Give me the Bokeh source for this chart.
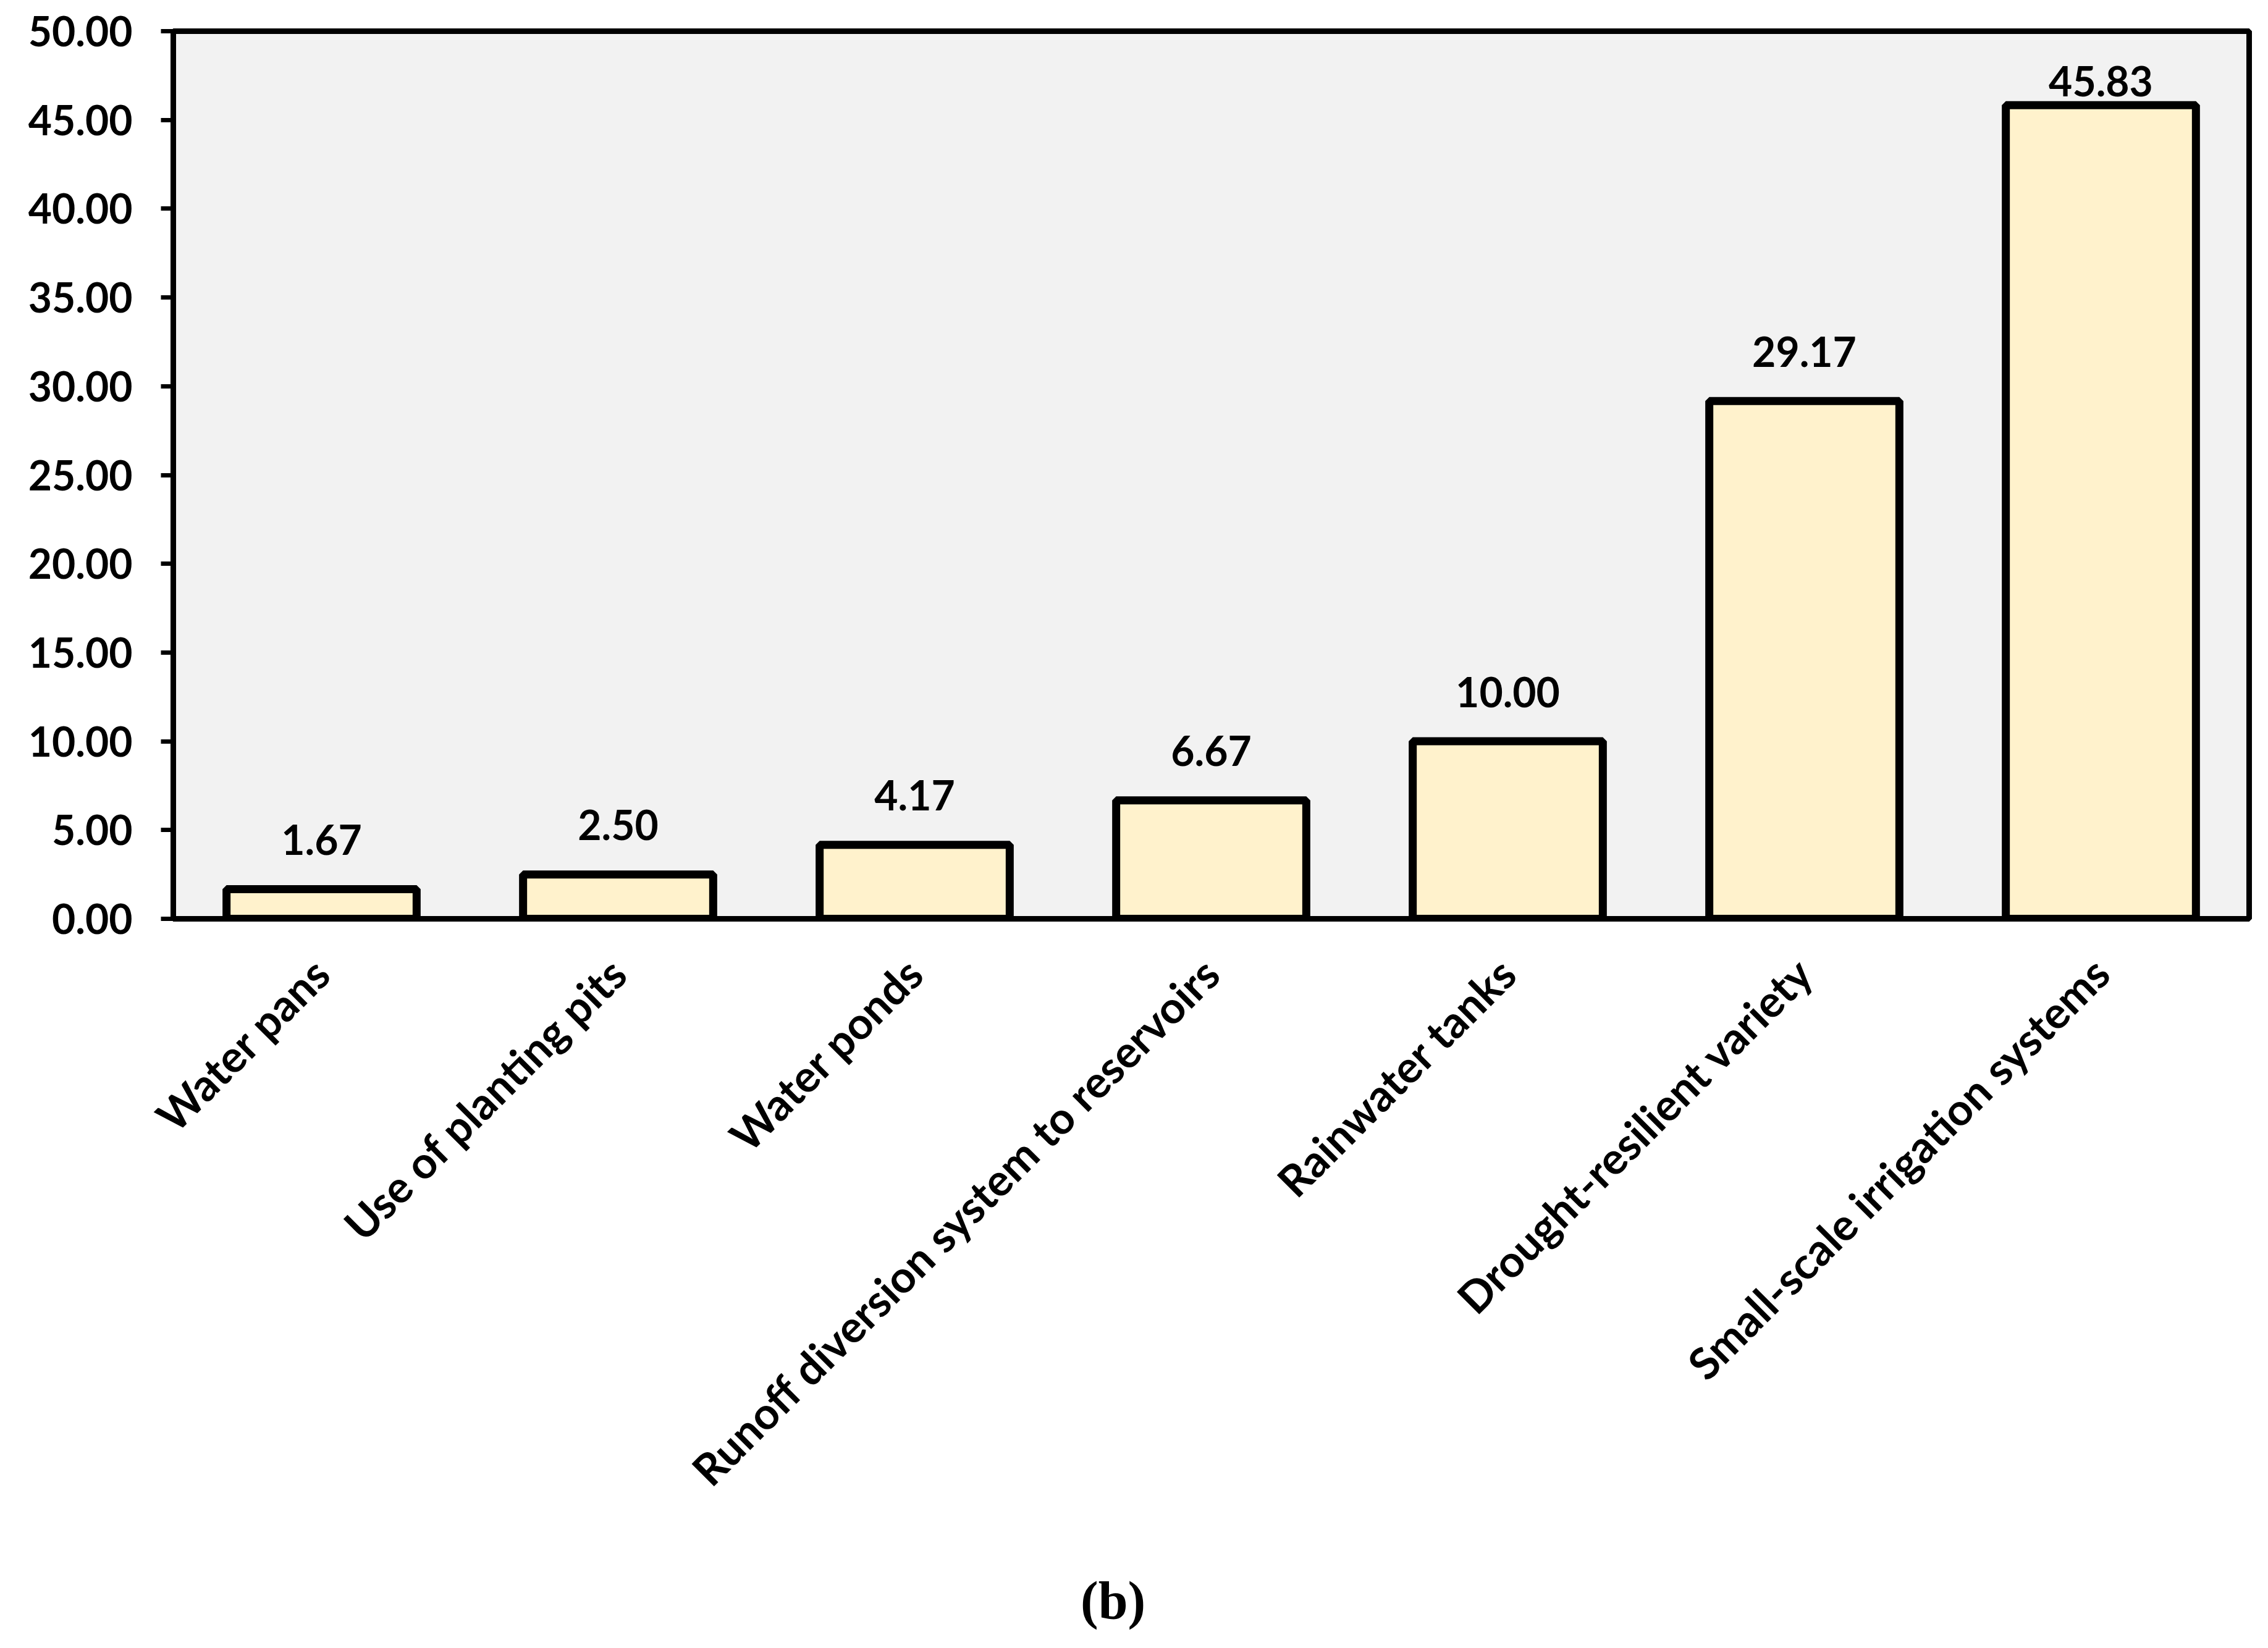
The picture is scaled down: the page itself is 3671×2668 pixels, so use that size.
from math import pi
from bokeh.plotting import figure
from bokeh.layouts import column
from bokeh.models import ColumnDataSource, FactorRange, FixedTicker, NumeralTickFormatter, Div
from bokeh.embed import file_html
from bokeh.resources import INLINE

# data
categories = ["Water pans", "Use of planting pits", "Water ponds",
              "Runoff diversion system to reservoirs", "Rainwater tanks",
              "Drought-resilient variety", "Small-scale irrigation systems"]
values = [1.67, 2.50, 4.17, 6.67, 10.00, 29.17, 45.83]
y_ticks = [0, 5, 10, 15, 20, 25, 30, 35, 40, 45, 50]

FONT = "Lato"

# labels sit above the bars, the top one is pushed down to stay in the frame
offsets = [-80 if v < 45 else -39 for v in values]
src = ColumnDataSource(data=dict(cat=categories, val=values,
                                 lbl=["%.2f" % v for v in values], off=offsets))

p = figure(x_range=FactorRange(factors=categories), y_range=(0, 50),
           width=3650, height=2548, output_backend="svg", toolbar_location=None, tools="",
           min_border_left=280, min_border_right=10, min_border_top=50, min_border_bottom=1061)

p.background_fill_color = "#f2f2f2"
p.border_fill_color = "white"
p.outline_line_color = "black"
p.outline_line_width = 9
p.grid.visible = False

p.vbar(x="cat", top="val", bottom=0, width=0.641, source=src,
       fill_color="#fff2cc", line_color="black", line_width=13)

p.text(x="cat", y="val", text="lbl", y_offset="off", source=src,
       text_align="center", text_baseline="alphabetic",
       text_font={"value": FONT}, text_font_style="bold", text_font_size="66px",
       text_color="black")

# y axis
p.yaxis.ticker = FixedTicker(ticks=y_ticks)
p.yaxis.formatter = NumeralTickFormatter(format="0.00")
p.yaxis.minor_tick_line_color = None
p.yaxis.major_tick_in = 0
p.yaxis.major_tick_out = 20
p.yaxis.major_tick_line_width = 7
p.yaxis.axis_line_width = 9
p.yaxis.major_label_standoff = 46
p.yaxis.major_label_text_font = FONT
p.yaxis.major_label_text_font_style = "bold"
p.yaxis.major_label_text_font_size = "66px"
p.yaxis.major_label_text_color = "black"

# x axis
p.xaxis.major_tick_line_color = None
p.xaxis.major_tick_in = 0
p.xaxis.major_tick_out = 0
p.xaxis.axis_line_width = 9
p.xaxis.major_label_orientation = pi / 4
p.xaxis.major_label_standoff = 75
p.xaxis.major_label_text_font = FONT
p.xaxis.major_label_text_font_style = "bold"
p.xaxis.major_label_text_font_size = "71px"
p.xaxis.major_label_text_color = "black"

# panel caption under the chart
cap = Div(text="<div style=\"margin-left:1749px;font-family:'Liberation Serif';"
               "font-weight:bold;font-size:86px;line-height:1;color:black\">(b)</div>",
          width=3650, height=100, margin=0)

open("out.html", "w").write(file_html(column(p, cap), INLINE))
